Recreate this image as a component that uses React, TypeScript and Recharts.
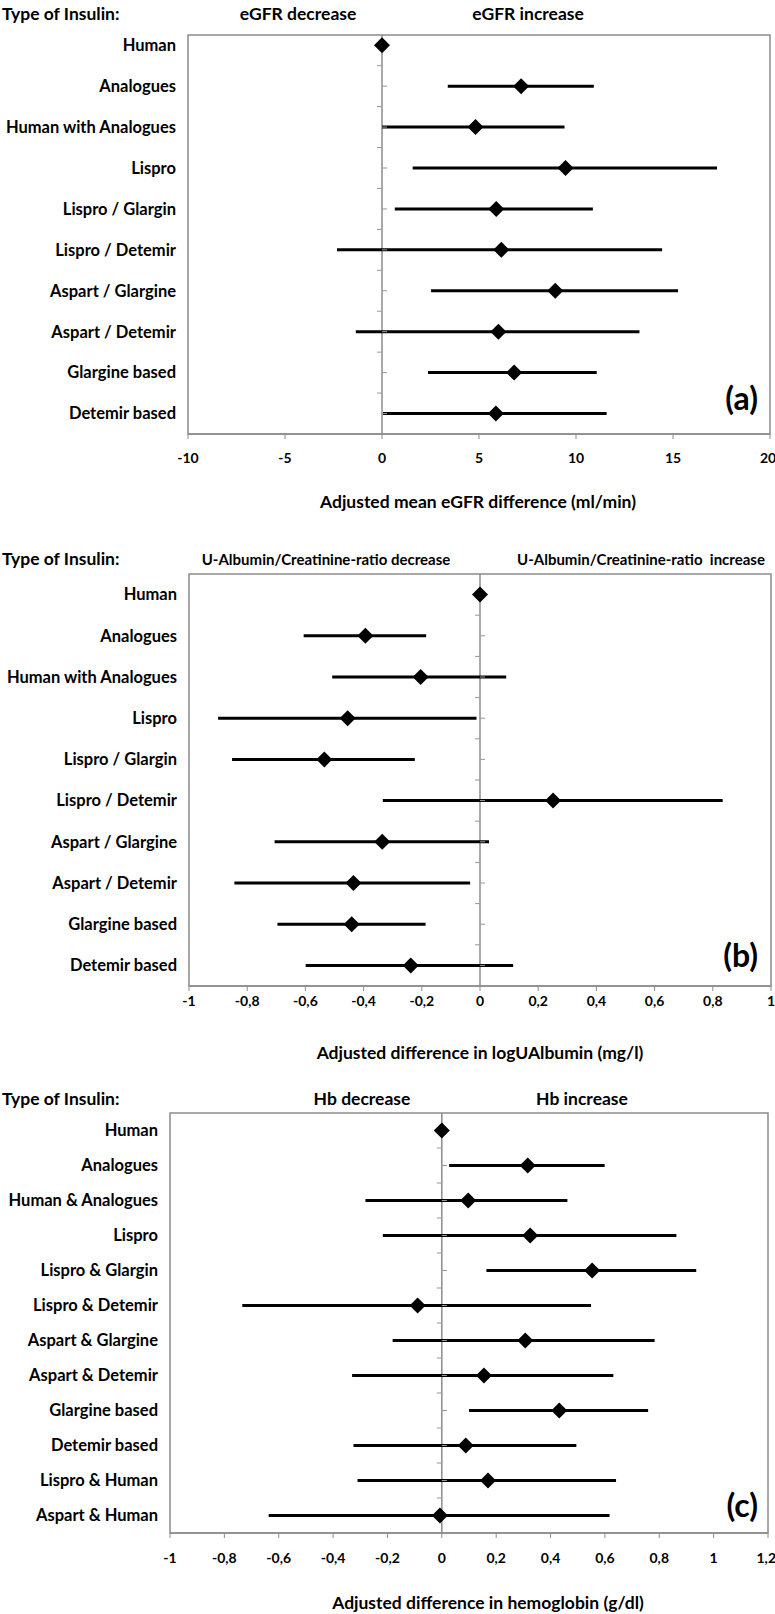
import {
  ScatterChart,
  Scatter,
  XAxis,
  YAxis,
  ErrorBar,
  ReferenceLine,
  ReferenceArea,
} from "recharts";

const FONT = "Lato, 'Open Sans', sans-serif";
const GRAY = "#8c8c8c";

// (a) eGFR
const egfrTypes = [
  "Human",
  "Analogues",
  "Human with Analogues",
  "Lispro",
  "Lispro / Glargin",
  "Lispro / Detemir",
  "Aspart / Glargine",
  "Aspart / Detemir",
  "Glargine based",
  "Detemir based",
];
const egfrMean = [0, 7.17, 4.82, 9.46, 5.89, 6.15, 8.93, 6.0, 6.81, 5.87];
const egfrLow = [0, 3.39, 0, 1.58, 0.66, -2.32, 2.53, -1.35, 2.37, 0.05];
const egfrHigh = [0, 10.92, 9.41, 17.27, 10.87, 14.44, 15.26, 13.27, 11.07, 11.58];
const egfrTicks = [-10, -5, 0, 5, 10, 15, 20];

// (b) log U-Albumin
const albTypes = egfrTypes;
const albMean = [0, -0.394, -0.204, -0.455, -0.535, 0.251, -0.336, -0.435, -0.441, -0.238];
const albLow = [0, -0.606, -0.508, -0.9, -0.852, -0.334, -0.706, -0.844, -0.696, -0.599];
const albHigh = [0, -0.185, 0.09, -0.012, -0.224, 0.834, 0.031, -0.034, -0.187, 0.114];
const albTicks = [-1, -0.8, -0.6, -0.4, -0.2, 0, 0.2, 0.4, 0.6, 0.8, 1];

// (c) hemoglobin
const hbTypes = [
  "Human",
  "Analogues",
  "Human & Analogues",
  "Lispro",
  "Lispro & Glargin",
  "Lispro & Detemir",
  "Aspart & Glargine",
  "Aspart & Detemir",
  "Glargine based",
  "Detemir based",
  "Lispro & Human",
  "Aspart  & Human",
];
const hbMean = [0, 0.316, 0.097, 0.325, 0.553, -0.089, 0.307, 0.155, 0.432, 0.088, 0.17, -0.007];
const hbLow = [0, 0.027, -0.281, -0.217, 0.164, -0.734, -0.181, -0.33, 0.1, -0.325, -0.31, -0.637];
const hbHigh = [0, 0.599, 0.462, 0.863, 0.936, 0.549, 0.783, 0.631, 0.759, 0.495, 0.641, 0.617];
const hbTicks = [-1, -0.8, -0.6, -0.4, -0.2, 0, 0.2, 0.4, 0.6, 0.8, 1, 1.2];

const Diamond = (props: any) => {
  const { cx, cy } = props;
  return (
    <polygon
      points={`${cx},${cy - 8} ${cx + 8},${cy} ${cx},${cy + 8} ${cx - 8},${cy}`}
      fill="#000"
    />
  );
};

const LeftTick = (props: any) => {
  const { cx, cy } = props;
  return <line x1={cx - 5} x2={cx} y1={cy} y2={cy} stroke="#999" strokeWidth={1} />;
};

const RightTick = (props: any) => {
  const { cx, cy } = props;
  return <line x1={cx} x2={cx + 5} y1={cy} y2={cy} stroke="#999" strokeWidth={1} />;
};

const fmt = (v: number) => String(v).replace(".", ",");

interface PanelProps {
  types: string[];
  mean: number[];
  low: number[];
  high: number[];
  ticks: number[];
  yDomain: [number, number];
  top: number;
  height: number;
  marginTop: number;
  marginRight: number;
  labelWidth: number;
  tickGap: number;
}

function Panel({
  types,
  mean,
  low,
  high,
  ticks,
  yDomain,
  top,
  height,
  marginTop,
  marginRight,
  labelWidth,
  tickGap,
}: PanelProps) {
  const n = types.length;
  const rows = types.map((t, i) => ({
    name: t,
    y: n - i,
    x: mean[i],
    err: [mean[i] - low[i], high[i] - mean[i]],
  }));
  const halfTicks = [];
  const fullTicks = [];
  for (let k = 1; k < n; k++) {
    halfTicks.push({ x: 0, y: k + 0.5 });
  }
  for (let k = 1; k < n; k++) {
    fullTicks.push({ x: 0, y: k });
  }
  const xDomain: [number, number] = [ticks[0], ticks[ticks.length - 1]];

  return (
    <div style={{ position: "absolute", left: 0, top }}>
      <ScatterChart
        width={775}
        height={height}
        margin={{ top: marginTop, right: marginRight, bottom: 16, left: 0 }}
      >
        <ReferenceArea
          x1={xDomain[0]}
          x2={xDomain[1]}
          y1={yDomain[0]}
          y2={yDomain[1]}
          fill="none"
          fillOpacity={0}
          stroke={GRAY}
          strokeWidth={1.5}
          ifOverflow="visible"
        />
        <XAxis
          type="number"
          dataKey="x"
          domain={xDomain}
          ticks={ticks}
          allowDataOverflow
          height={30}
          tickSize={5}
          tickMargin={tickGap}
          tickFormatter={fmt}
          axisLine={{ stroke: GRAY, strokeWidth: 1.5 }}
          tickLine={{ stroke: GRAY }}
          tick={{ fontSize: 14, fontWeight: "bold", fill: "#000", fontFamily: FONT }}
        />
        <YAxis
          type="number"
          dataKey="y"
          domain={yDomain}
          ticks={rows.map((r) => r.y)}
          allowDataOverflow
          width={labelWidth}
          axisLine={false}
          tickLine={false}
          tickSize={0}
          tickMargin={12}
          tickFormatter={(v: number) => types[n - v]}
          tick={{ fontSize: 16.5, fontWeight: "bold", fill: "#000", fontFamily: FONT }}
        />
        <ReferenceLine x={0} stroke={GRAY} strokeWidth={1.5} />
        <Scatter data={halfTicks} shape={LeftTick} isAnimationActive={false} />
        <Scatter data={fullTicks} shape={RightTick} isAnimationActive={false} />
        <Scatter data={rows} shape={Diamond} isAnimationActive={false}>
          <ErrorBar dataKey="err" direction="x" width={0} strokeWidth={3} stroke="#000" />
        </Scatter>
      </ScatterChart>
    </div>
  );
}

function Txt({
  x,
  y,
  size = 17.5,
  anchor = "middle",
  children,
}: {
  x: number;
  y: number;
  size?: number;
  anchor?: "start" | "middle" | "end";
  children: any;
}) {
  const tx = anchor === "middle" ? "-50%" : anchor === "end" ? "-100%" : "0";
  return (
    <div
      style={{
        position: "absolute",
        left: x,
        top: y,
        transform: `translate(${tx}, -50%)`,
        fontFamily: FONT,
        fontWeight: "bold",
        fontSize: size,
        lineHeight: 1,
        whiteSpace: "pre",
        color: "#000",
      }}
    >
      {children}
    </div>
  );
}

export default function App() {
  return (
    <div
      style={{
        position: "absolute",
        left: 0,
        top: 0,
        width: 775,
        height: 1614,
        background: "#fff",
        overflow: "hidden",
      }}
    >
      <Panel
        types={egfrTypes}
        mean={egfrMean}
        low={egfrLow}
        high={egfrHigh}
        ticks={egfrTicks}
        yDomain={[0.5, 10.25]}
        top={0}
        height={480}
        marginTop={35}
        marginRight={5}
        labelWidth={188}
        tickGap={14}
      />
      <Txt x={2} y={14} anchor="start">Type of Insulin:</Txt>
      <Txt x={298} y={14}>eGFR decrease</Txt>
      <Txt x={528} y={14}>eGFR increase</Txt>
      <Txt x={758} y={398} size={32} anchor="end">(a)</Txt>
      <Txt x={478} y={502}>Adjusted mean eGFR difference (ml/min)</Txt>

      <Panel
        types={albTypes}
        mean={albMean}
        low={albLow}
        high={albHigh}
        ticks={albTicks}
        yDomain={[0.5, 10.5]}
        top={540}
        height={492}
        marginTop={34}
        marginRight={4}
        labelWidth={189}
        tickGap={5}
      />
      <Txt x={2} y={559} anchor="start">Type of Insulin:</Txt>
      <Txt x={326} y={559} size={15}>U-Albumin/Creatinine-ratio decrease</Txt>
      <Txt x={641} y={559} size={15}>U-Albumin/Creatinine-ratio  increase</Txt>
      <Txt x={758} y={955} size={32} anchor="end">(b)</Txt>
      <Txt x={480} y={1053}>Adjusted difference in logUAlbumin (mg/l)</Txt>

      <Panel
        types={hbTypes}
        mean={hbMean}
        low={hbLow}
        high={hbHigh}
        ticks={hbTicks}
        yDomain={[0.5, 12.5]}
        top={1080}
        height={499}
        marginTop={33}
        marginRight={7}
        labelWidth={170}
        tickGap={15}
      />
      <Txt x={2} y={1099} anchor="start">Type of Insulin:</Txt>
      <Txt x={362} y={1099}>Hb decrease</Txt>
      <Txt x={582} y={1099}>Hb increase</Txt>
      <Txt x={758} y={1505} size={32} anchor="end">(c)</Txt>
      <Txt x={488} y={1603}>Adjusted difference in hemoglobin (g/dl)</Txt>
    </div>
  );
}
